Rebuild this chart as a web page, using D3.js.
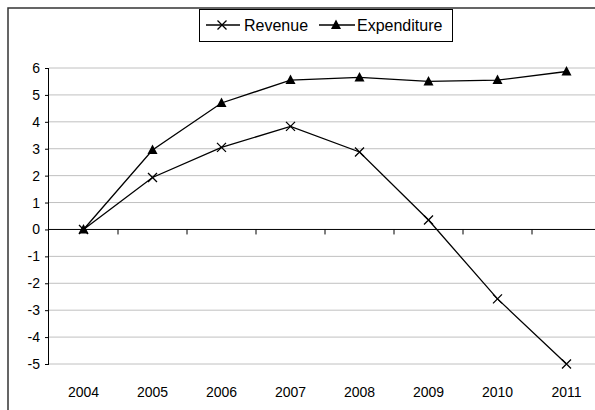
<!DOCTYPE html>
<html><head><meta charset="utf-8">
<script src="https://cdn.jsdelivr.net/npm/d3@7"></script>
<style>html,body{margin:0;padding:0;background:#fff;}svg{display:block;font-family:"Liberation Sans",Arial,sans-serif;}</style>
</head><body>
<svg id="chart" width="595" height="410"></svg>
<script>
const years = ["2004","2005","2006","2007","2008","2009","2010","2011"];
const revenue = [0, 1.93, 3.05, 3.83, 2.88, 0.35, -2.58, -5.0];
const expenditure = [0, 2.95, 4.7, 5.55, 5.65, 5.5, 5.55, 5.87];
const yTicks = [-5,-4,-3,-2,-1,0,1,2,3,4,5,6];
const seriesNames = ["Revenue","Expenditure"];

const svg = d3.select("#chart");
const x = d3.scaleBand().domain(years).range([49, 601]);
const y = d3.scaleLinear().domain([-5, 6]).range([364, 68]);

// outer frame (left and top visible)
svg.append("path").attr("d","M8,410 V8 H595").attr("fill","none").attr("stroke","#333").attr("stroke-width",1.5);

// gridlines
svg.append("g").selectAll("line").data(yTicks.filter(d=>d!==0)).join("line")
  .attr("x1",49).attr("x2",595).attr("y1",d=>y(d)).attr("y2",d=>y(d))
  .attr("stroke","#c0c0c0").attr("stroke-width",1);

// y axis
const yAxis = d3.axisLeft(y).tickValues(yTicks).tickSize(4).tickPadding(5).tickFormat(d=>String(d));
const gy = svg.append("g").attr("transform","translate(49,0)").call(yAxis);
gy.select(".domain").attr("stroke","#000").attr("d","M-0.5,"+y(6)+"V"+y(-5));
gy.selectAll(".tick line").attr("stroke","#000");
gy.selectAll("text").attr("font-size",14).attr("fill","#000").attr("font-family","Liberation Sans, Arial, sans-serif");

// x axis line at zero
svg.append("line").attr("x1",49).attr("x2",595).attr("y1",y(0)).attr("y2",y(0)).attr("stroke","#000");
// category boundary ticks
svg.append("g").selectAll("line").data(years.slice(1)).join("line")
  .attr("x1",d=>x(d)).attr("x2",d=>x(d)).attr("y1",y(0)).attr("y2",y(0)+5).attr("stroke","#000");
// x labels at bottom
svg.append("g").selectAll("text").data(years).join("text")
  .attr("x",d=>x(d)+x.bandwidth()/2).attr("y",397).attr("text-anchor","middle")
  .attr("font-size",14).attr("fill","#000").text(d=>d);

const line = d3.line().x((d,i)=>x(years[i])+x.bandwidth()/2).y(d=>y(d));
svg.append("path").datum(revenue).attr("d",line).attr("fill","none").attr("stroke","#000").attr("stroke-width",1.3);
svg.append("path").datum(expenditure).attr("d",line).attr("fill","none").attr("stroke","#000").attr("stroke-width",1.3);

const cross = (cx,cy)=>`M${cx-4.5},${cy-4.5}L${cx+4.5},${cy+4.5}M${cx-4.5},${cy+4.5}L${cx+4.5},${cy-4.5}`;
const tri = (cx,cy)=>`M${cx},${cy-5.5}L${cx+5},${cy+4}L${cx-5},${cy+4}Z`;

svg.append("g").selectAll("path").data(expenditure).join("path")
  .attr("d",(d,i)=>tri(x(years[i])+x.bandwidth()/2, y(d))).attr("fill","#000");
svg.append("g").selectAll("path").data(revenue).join("path")
  .attr("d",(d,i)=>cross(x(years[i])+x.bandwidth()/2, y(d))).attr("stroke","#000").attr("stroke-width",1.3).attr("fill","none");

// legend
const lg = svg.append("g");
lg.append("rect").attr("x",199.5).attr("y",9.5).attr("width",253).attr("height",32).attr("fill","#fff").attr("stroke","#000");
lg.append("line").attr("x1",206).attr("x2",240).attr("y1",25).attr("y2",25).attr("stroke","#000").attr("stroke-width",1.3);
lg.append("path").attr("d",cross(222,25).replace(/4\.5/g,"4")).attr("stroke","#000").attr("stroke-width",1.3);
lg.append("text").attr("x",244).attr("y",31).attr("font-size",16).text(seriesNames[0]);
lg.append("line").attr("x1",319).attr("x2",355).attr("y1",25).attr("y2",25).attr("stroke","#000").attr("stroke-width",1.3);
lg.append("path").attr("d",tri(336,25)).attr("fill","#000");
lg.append("text").attr("x",357).attr("y",31).attr("font-size",16).text(seriesNames[1]);
</script>
</body></html>
